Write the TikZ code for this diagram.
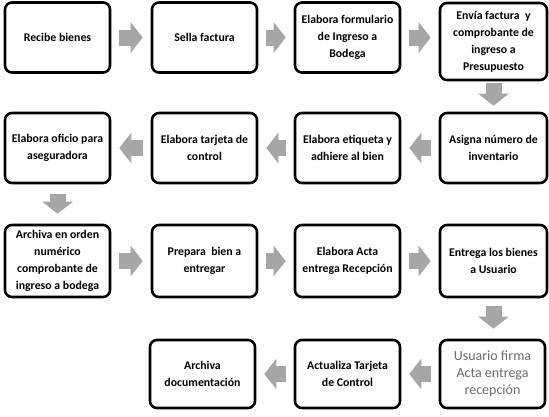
\documentclass[tikz,border=0pt]{standalone}
\usepackage{fontspec}
\setmainfont{Carlito}
\usetikzlibrary{arrows.meta}

\begin{document}
\begin{tikzpicture}[
  x=1pt, y=-1pt,
  font=\fontsize{11.8}{17}\selectfont\bfseries,
  paso/.style={draw=black, line width=2.6pt, rounded corners=7pt, fill=white, align=center,
    inner sep=2pt, minimum width=105pt, minimum height=70pt},
  firma/.style={paso, draw=black, font=\fontsize{14}{17}\selectfont, text=black!58},
  flecha/.style={draw=black!35, line width=16pt, -{Triangle[length=12pt, width=30pt]},
    shorten <=8pt, shorten >=8pt},
]
\useasboundingbox (0,0) rectangle (549,416);

% ---- fila 1
\node[paso] (recibe)     at (57.5,37.5)  {Recibe bienes};
\node[paso] (sella)      at (204.5,37.5) {Sella factura};
\node[paso] (formulario) at (347.5,37.5) {Elabora formulario\\de Ingreso a\\Bodega};
\node[paso, minimum width=107pt, minimum height=77pt] (envia) at (493.5,41.5)
  {Envía factura\ \ y\\comprobante de\\ingreso a\\Presupuesto};

% ---- fila 2
\node[paso, minimum width=107pt] (asigna) at (493.5,148) {Asigna número de\\inventario};
\node[paso] (etiqueta) at (347.5,148) {Elabora etiqueta y\\adhiere al bien};
\node[paso] (tarjeta)  at (204.5,148) {Elabora tarjeta de\\control};
\node[paso] (oficio)   at (57.5,148)  {Elabora oficio para\\aseguradora};

% ---- fila 3
\node[paso, minimum height=72pt] (archiva) at (57.5,261)  {Archiva en orden\\numérico\\comprobante de\\ingreso a bodega};
\node[paso, minimum height=72pt] (prepara) at (204.5,261) {Prepara\ \ bien a\\entregar};
\node[paso, minimum height=72pt] (acta)    at (347.5,261) {Elabora Acta\\entrega Recepción};
\node[paso, minimum height=72pt, minimum width=107pt] (entrega) at (493.5,261) {Entrega los bienes\\a Usuario};

% ---- fila 4
\node[firma, minimum height=68pt] (usuario)   at (492.5,374) {Usuario firma\\Acta entrega\\recepción};
\node[paso, minimum height=68pt]  (actualiza) at (347.5,374) {Actualiza Tarjeta\\de Control};
\node[paso, minimum height=68pt]  (archdoc)   at (202.5,374) {Archiva\\documentación};

% ---- flechas
\draw[flecha] (recibe) -- (sella);
\draw[flecha] (sella) -- (formulario);
\draw[flecha] (formulario.east) -- (formulario.east -| envia.west);
\draw[flecha, shorten <=2pt, shorten >=6pt] (envia) -- (asigna);
\draw[flecha] (asigna) -- (etiqueta);
\draw[flecha] (etiqueta) -- (tarjeta);
\draw[flecha] (tarjeta) -- (oficio);
\draw[flecha, shorten <=10pt, shorten >=10pt] (oficio) -- (archiva);
\draw[flecha] (archiva) -- (prepara);
\draw[flecha] (prepara) -- (acta);
\draw[flecha] (acta) -- (entrega);
\draw[flecha, shorten <=8pt, shorten >=10pt] (entrega.south) -- (entrega.south |- usuario.north);
\draw[flecha] (usuario.west) -- (usuario.west -| actualiza.east);
\draw[flecha] (actualiza) -- (archdoc);
\end{tikzpicture}
\end{document}
